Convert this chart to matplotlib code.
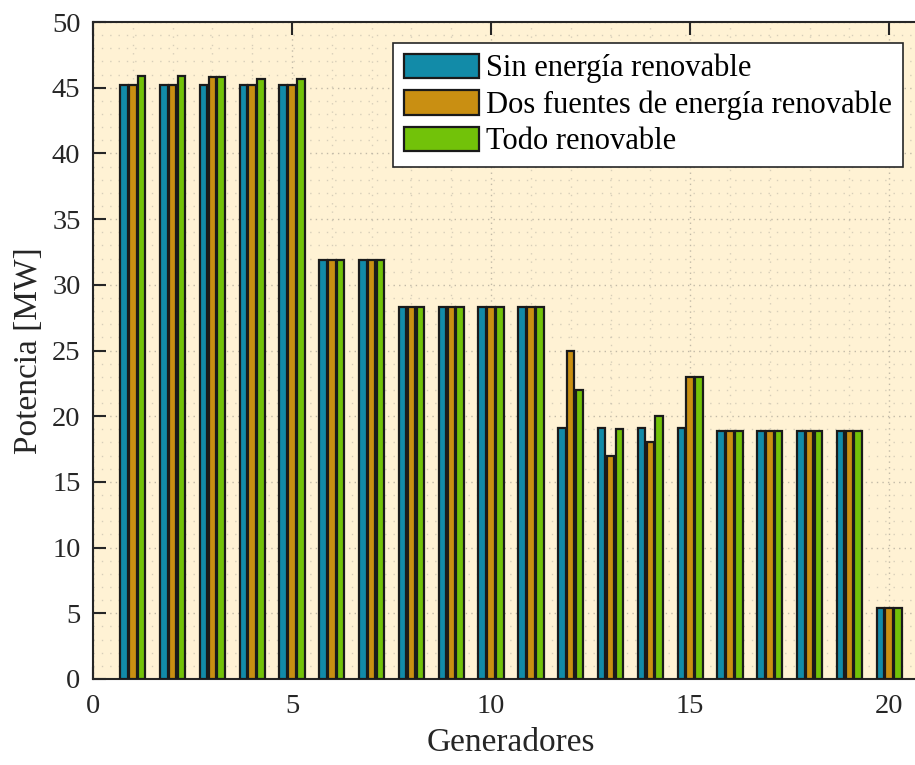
import matplotlib
matplotlib.use("Agg")
import matplotlib.pyplot as plt
import numpy as np
from matplotlib.ticker import MultipleLocator

generadores = list(range(1, 21))
sin_renovable = [45.2, 45.2, 45.2, 45.2, 45.2, 31.9, 31.9, 28.3, 28.3, 28.3,
                 28.3, 19.1, 19.1, 19.1, 19.1, 18.9, 18.9, 18.9, 18.9, 5.4]
dos_fuentes = [45.2, 45.2, 45.8, 45.2, 45.2, 31.9, 31.9, 28.3, 28.3, 28.3,
               28.3, 25.0, 17.0, 18.0, 23.0, 18.9, 18.9, 18.9, 18.9, 5.4]
todo_renovable = [45.9, 45.9, 45.8, 45.7, 45.7, 31.9, 31.9, 28.3, 28.3, 28.3,
                  28.3, 22.0, 19.0, 20.0, 23.0, 18.9, 18.9, 18.9, 18.9, 5.4]
series_labels = ["Sin energía renovable", "Dos fuentes de energía renovable", "Todo renovable"]
x_ticks = [0, 5, 10, 15, 20]
y_ticks = list(range(0, 51, 5))

colors = ["#128BA8", "#C98F12", "#72C209"]

plt.rcParams['font.family'] = ['Liberation Serif', 'DejaVu Serif']

fig = plt.figure(figsize=(9.15, 7.65), dpi=100)
ax = fig.add_axes([93/915, 1 - 679/765, (929 - 93)/915, (679 - 22)/765])
ax.set_facecolor("#FFF2D4")

x = np.array(generadores, dtype=float)
offsets = [-0.222, 0.0, 0.222]
width = 0.19
for vals, off, c, lab in zip([sin_renovable, dos_fuentes, todo_renovable], offsets, colors, series_labels):
    ax.bar(x + off, vals, width=width, color=c, edgecolor="#1a1a1a", linewidth=1.6,
           label=lab, zorder=3)

ax.set_xlim(0, 21)
ax.set_ylim(0, 50)
ax.set_xticks(x_ticks)
ax.set_yticks(y_ticks)
ax.xaxis.set_minor_locator(MultipleLocator(1))
ax.yaxis.set_minor_locator(MultipleLocator(1))

ax.grid(which='major', linestyle=(0, (1, 3)), color='#a8a294', linewidth=1.0, alpha=0.7, zorder=0)
ax.grid(which='minor', linestyle=(0, (1, 5)), color='#bdb7a8', linewidth=1.0, alpha=0.6, zorder=0)
ax.set_axisbelow(True)

ax.tick_params(which='major', direction='in', length=9, width=1.5, top=True, right=True,
               labelsize=20.5, colors='#262626', labelcolor='#262626')
ax.tick_params(axis='y', pad=9)
ax.tick_params(axis='x', pad=11)
ax.tick_params(which='minor', length=0)
for s in ax.spines.values():
    s.set_linewidth(1.5)
    s.set_color('#262626')

ax.set_xlabel("Generadores", fontsize=24, color='#262626', labelpad=6)
ax.set_ylabel("Potencia [MW]", fontsize=24, color='#262626', labelpad=6)

leg = ax.legend(loc='upper right', bbox_to_anchor=(903/915, 1 - 43/765),
                bbox_transform=fig.transFigure, borderaxespad=0, fontsize=22,
                fancybox=False, framealpha=1, edgecolor='#262626',
                handlelength=2.45, handleheight=0.85, handletextpad=0.25,
                labelspacing=0.22, borderpad=0.35)
leg.get_frame().set_linewidth(1.2)
for t in leg.get_texts():
    t.set_color('black')

fig.savefig("out.png", dpi=100)
